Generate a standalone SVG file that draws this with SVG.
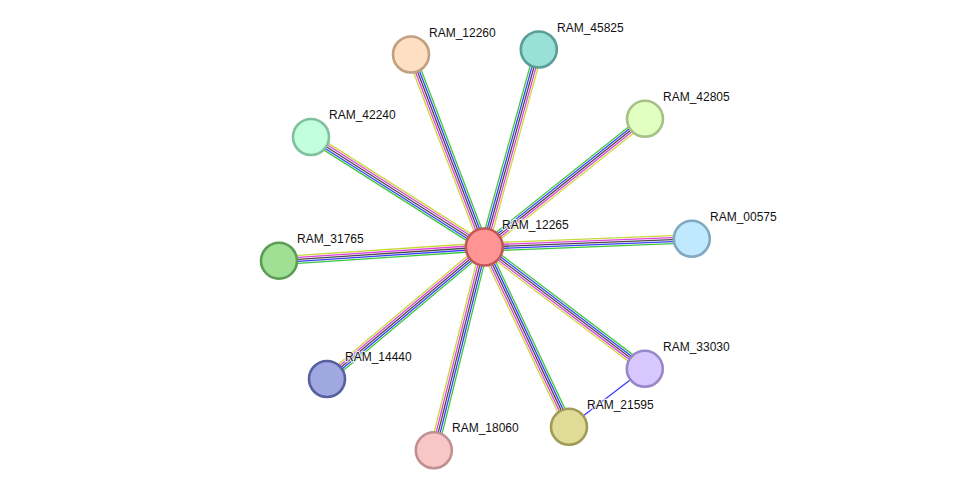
<svg xmlns="http://www.w3.org/2000/svg" width="975" height="495" viewBox="0 0 975 495">
<style>
.y{stroke:#c8d83c}.m{stroke:#e040e0}.k{stroke:#4a4a4a}.b{stroke:#3c3cff}.g{stroke:#3cc83c}
#edges line{stroke-width:1.3;fill:none}
.node circle{stroke-width:2.6}
.node text{font-family:"Liberation Sans",Arial,sans-serif;font-size:12px;fill:#111;stroke:#fff;stroke-width:2.5;stroke-opacity:0.8;paint-order:stroke;stroke-linejoin:round}
</style>
<rect width="975" height="495" fill="#fff"/>
<g id="edges">
  <g transform="translate(484.3,247) rotate(-110.84) scale(1,-1)"><line class="y" x1="0" y1="4" x2="206" y2="4"/><line class="m" x1="0" y1="2" x2="206" y2="2"/><line class="k" x1="0" y1="0" x2="206" y2="0"/><line class="b" x1="0" y1="-2" x2="206" y2="-2"/><line class="g" x1="0" y1="-4" x2="206" y2="-4"/></g>
  <g transform="translate(484.3,247) rotate(-74.57)"><line class="y" x1="0" y1="4" x2="205" y2="4"/><line class="m" x1="0" y1="2" x2="205" y2="2"/><line class="k" x1="0" y1="0" x2="205" y2="0"/><line class="b" x1="0" y1="-2" x2="205" y2="-2"/><line class="g" x1="0" y1="-4" x2="205" y2="-4"/></g>
  <g transform="translate(484.3,247) rotate(-38.58)"><line class="y" x1="0" y1="4" x2="205.6" y2="4"/><line class="m" x1="0" y1="2" x2="205.6" y2="2"/><line class="k" x1="0" y1="0" x2="205.6" y2="0"/><line class="b" x1="0" y1="-2" x2="205.6" y2="-2"/><line class="g" x1="0" y1="-4" x2="205.6" y2="-4"/></g>
  <g transform="translate(484.3,247) rotate(-147.6)"><line class="y" x1="0" y1="4" x2="205.3" y2="4"/><line class="m" x1="0" y1="2" x2="205.3" y2="2"/><line class="k" x1="0" y1="0" x2="205.3" y2="0"/><line class="b" x1="0" y1="-2" x2="205.3" y2="-2"/><line class="g" x1="0" y1="-4" x2="205.3" y2="-4"/></g>
  <g transform="translate(484.3,247) rotate(-2.26) scale(1,-1)"><line class="y" x1="0" y1="4" x2="207.7" y2="4"/><line class="m" x1="0" y1="2" x2="207.7" y2="2"/><line class="k" x1="0" y1="0" x2="207.7" y2="0"/><line class="b" x1="0" y1="-2" x2="207.7" y2="-2"/><line class="g" x1="0" y1="-4" x2="207.7" y2="-4"/></g>
  <g transform="translate(484.3,247) rotate(176.18)"><line class="y" x1="0" y1="4" x2="205.8" y2="4"/><line class="m" x1="0" y1="2" x2="205.8" y2="2"/><line class="k" x1="0" y1="0" x2="205.8" y2="0"/><line class="b" x1="0" y1="-2" x2="205.8" y2="-2"/><line class="g" x1="0" y1="-4" x2="205.8" y2="-4"/></g>
  <g transform="translate(484.3,247) rotate(37.19)"><line class="y" x1="0" y1="4" x2="201.5" y2="4"/><line class="m" x1="0" y1="2" x2="201.5" y2="2"/><line class="k" x1="0" y1="0" x2="201.5" y2="0"/><line class="b" x1="0" y1="-2" x2="201.5" y2="-2"/><line class="g" x1="0" y1="-4" x2="201.5" y2="-4"/></g>
  <g transform="translate(484.3,247) rotate(139.99)"><line class="y" x1="0" y1="4" x2="205.4" y2="4"/><line class="m" x1="0" y1="2" x2="205.4" y2="2"/><line class="k" x1="0" y1="0" x2="205.4" y2="0"/><line class="b" x1="0" y1="-2" x2="205.4" y2="-2"/><line class="g" x1="0" y1="-4" x2="205.4" y2="-4"/></g>
  <g transform="translate(484.3,247) rotate(64.78)"><line class="y" x1="0" y1="4" x2="198.8" y2="4"/><line class="m" x1="0" y1="2" x2="198.8" y2="2"/><line class="k" x1="0" y1="0" x2="198.8" y2="0"/><line class="b" x1="0" y1="-2" x2="198.8" y2="-2"/><line class="g" x1="0" y1="-4" x2="198.8" y2="-4"/></g>
  <g transform="translate(484.3,247) rotate(103.95)"><line class="y" x1="0" y1="4" x2="209.5" y2="4"/><line class="m" x1="0" y1="2" x2="209.5" y2="2"/><line class="k" x1="0" y1="0" x2="209.5" y2="0"/><line class="b" x1="0" y1="-2" x2="209.5" y2="-2"/><line class="g" x1="0" y1="-4" x2="209.5" y2="-4"/></g>
  <line class="b" x1="644.8" y1="368.8" x2="569" y2="426.8"/>
</g>
<g id="RAM_12260" class="node"><circle cx="411" cy="54.5" r="18" fill="#ffdfc2" stroke="#c0a080"/><text x="429" y="37">RAM_12260</text></g>
<g id="RAM_45825" class="node"><circle cx="538.8" cy="49.5" r="18" fill="#99e0d6" stroke="#5a9e96"/><text x="557" y="32">RAM_45825</text></g>
<g id="RAM_42805" class="node"><circle cx="645" cy="118.8" r="18" fill="#e0ffc0" stroke="#a8c088"/><text x="663" y="101">RAM_42805</text></g>
<g id="RAM_42240" class="node"><circle cx="311" cy="137" r="18" fill="#c2ffdc" stroke="#80c0a0"/><text x="329" y="119">RAM_42240</text></g>
<g id="RAM_00575" class="node"><circle cx="691.8" cy="238.8" r="18" fill="#c0e8ff" stroke="#80a8c0"/><text x="710" y="221">RAM_00575</text></g>
<g id="RAM_31765" class="node"><circle cx="279" cy="260.7" r="18" fill="#a0e094" stroke="#5c9c54"/><text x="297" y="243">RAM_31765</text></g>
<g id="RAM_33030" class="node"><circle cx="644.8" cy="368.8" r="18" fill="#d8c8ff" stroke="#9888c8"/><text x="663" y="351">RAM_33030</text></g>
<g id="RAM_14440" class="node"><circle cx="327" cy="379" r="18" fill="#a0a8e2" stroke="#5860a0"/><text x="345" y="361">RAM_14440</text></g>
<g id="RAM_21595" class="node"><circle cx="569" cy="426.8" r="18" fill="#e0dc98" stroke="#a09c58"/><text x="587" y="409">RAM_21595</text></g>
<g id="RAM_18060" class="node"><circle cx="433.8" cy="450.3" r="18" fill="#f8c6c6" stroke="#c09090"/><text x="452" y="432">RAM_18060</text></g>
<g id="RAM_12265" class="node"><circle cx="484.3" cy="247" r="18.5" fill="#ff9494" stroke="#c05858"/><text x="502" y="229">RAM_12265</text></g>
</svg>
